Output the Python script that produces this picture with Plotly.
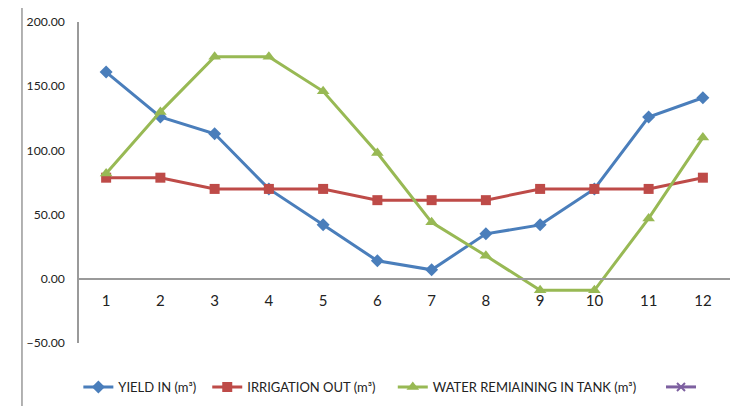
import plotly.graph_objects as go

months = list(range(1, 13))
tick_labels = [str(m) for m in months]
yield_in = [161, 126, 113, 70, 42, 14, 7, 35, 42, 70, 126, 141]
irrigation_out = [78.75, 78.75, 70, 70, 70, 61.25, 61.25, 61.25, 70, 70, 70, 78.75]
water_remaining = [82, 130, 173, 173, 146, 98, 44, 18, -9, -9, 47, 110]
series_names = ["YIELD IN (m³)", "IRRIGATION OUT (m³)", "WATER REMIAINING IN TANK (m³)", " "]

FONT = "Lato, Open Sans, sans-serif"

fig = go.Figure()
fig.add_trace(go.Scatter(x=months, y=yield_in, name=series_names[0], mode="lines+markers",
                         line=dict(color="#4A7EBB", width=3), legend="legend",
                         marker=dict(symbol="diamond", size=10, color="#4A7EBB")))
fig.add_trace(go.Scatter(x=months, y=irrigation_out, name=series_names[1], mode="lines+markers",
                         line=dict(color="#BE4B48", width=3), legend="legend2",
                         marker=dict(symbol="square", size=10, color="#BE4B48")))
fig.add_trace(go.Scatter(x=months, y=water_remaining, name=series_names[2], mode="lines+markers",
                         line=dict(color="#98B954", width=3), legend="legend3",
                         marker=dict(symbol="triangle-up", size=11, color="#98B954")))
fig.add_trace(go.Scatter(x=months, y=[None] * 12, name=series_names[3], mode="lines+markers",
                         line=dict(color="#7D60A0", width=3), legend="legend4",
                         marker=dict(symbol="x-thin", size=8, color="#7D60A0",
                                     line=dict(color="#7D60A0", width=2))))

def leg(x):
    return dict(orientation="h", x=x, xanchor="left", y=-0.137, yanchor="middle",
                font=dict(size=13, color="#222"), itemwidth=30, bgcolor="rgba(0,0,0,0)")

fig.update_layout(
    width=748, height=398,
    margin=dict(l=71, r=26, t=14, b=63, autoexpand=False),
    paper_bgcolor="white", plot_bgcolor="white",
    font=dict(family=FONT, size=13, color="#222"),
    xaxis=dict(range=[0.5, 12.5], tickvals=months, ticktext=tick_labels, automargin=False,
               showgrid=False, zeroline=False, showline=True, linecolor="#9a9a9a", linewidth=1.5,
               anchor="free", position=0.2, ticks="", ticklabelstandoff=8,
               tickfont=dict(size=15)),
    yaxis=dict(range=[-50, 200], tickvals=[-50, 0, 50, 100, 150, 200], tickformat=".2f",
               automargin=False,
               showgrid=False, zeroline=False, showline=True, linecolor="#9a9a9a", linewidth=1.5,
               ticks="", ticklabelstandoff=10, tickfont=dict(size=12.2)),
    showlegend=True,
    legend=leg(-0.001), legend2=leg(0.197), legend3=leg(0.482), legend4=leg(0.894),
    shapes=[dict(type="rect", xref="paper", yref="paper", x0=-0.0876, x1=1.035, y0=-0.4, y1=1.047,
                 line=dict(color="#999", width=1.5), fillcolor="rgba(0,0,0,0)", layer="below")],
)

fig.write_html("out.html")
